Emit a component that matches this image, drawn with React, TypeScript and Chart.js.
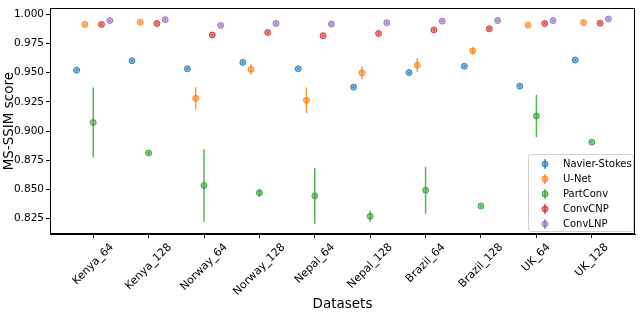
import React, { useEffect, useRef } from "react";
import { Chart, registerables } from "chart.js";
Chart.register(...registerables);

const categories = ["Kenya_64", "Kenya_128", "Norway_64", "Norway_128", "Nepal_64", "Nepal_128", "Brazil_64", "Brazil_128", "UK_64", "UK_128"];
const seriesNames = ["Navier-Stokes", "U-Net", "PartConv", "ConvCNP", "ConvLNP"];
const seriesColors = ["31,119,180", "255,127,14", "44,160,44", "214,39,40", "148,103,189"];
const seriesOffsets = [-0.3, -0.15, 0, 0.15, 0.3];

const navierStokes = [0.9521, 0.9601, 0.9532, 0.9587, 0.9532, 0.9376, 0.95, 0.9554, 0.9384, 0.9607];
const navierStokesErr = [0.0008, 0.0008, 0.0008, 0.0008, 0.0008, 0.0008, 0.0008, 0.0008, 0.0008, 0.0008];
const uNet = [0.9912, 0.9931, 0.928, 0.9527, 0.9263, 0.9497, 0.9563, 0.9686, 0.9906, 0.9928];
const uNetErr = [0.0008, 0.0008, 0.0095, 0.0045, 0.011, 0.0055, 0.006, 0.003, 0.0008, 0.0008];
const partConv = [0.9073, 0.8812, 0.8534, 0.8471, 0.8446, 0.827, 0.8493, 0.8358, 0.9128, 0.8905];
const partConvErr = [0.03, 0.001, 0.031, 0.0035, 0.024, 0.0047, 0.02, 0.001, 0.018, 0.001];
const convCNP = [0.9912, 0.992, 0.9821, 0.9843, 0.9816, 0.9835, 0.9865, 0.9874, 0.992, 0.9923];
const convCNPErr = [0.0008, 0.0008, 0.0008, 0.0008, 0.0008, 0.0008, 0.0008, 0.0008, 0.0008, 0.0008];
const convLNP = [0.9945, 0.9953, 0.9904, 0.992, 0.9915, 0.9926, 0.994, 0.9945, 0.9945, 0.9959];
const convLNPErr = [0.0008, 0.0008, 0.0008, 0.0008, 0.0008, 0.0008, 0.0008, 0.0008, 0.0008, 0.0008];

const seriesValues = [navierStokes, uNet, partConv, convCNP, convLNP];
const seriesErrors = [navierStokesErr, uNetErr, partConvErr, convCNPErr, convLNPErr];
const yTickValues = [0.825, 0.85, 0.875, 0.9, 0.925, 0.95, 0.975, 1.0];

const FONT = "'DejaVu Sans', sans-serif";

const overlayPlugin = {
  id: "overlay",
  beforeDatasetsDraw(chart: any) {
    const ctx = chart.ctx;
    const xs = chart.scales.x;
    const ys = chart.scales.y;
    ctx.save();
    seriesValues.forEach((vals, s) => {
      ctx.strokeStyle = `rgba(${seriesColors[s]},0.8)`;
      ctx.lineWidth = 1.5;
      vals.forEach((v, i) => {
        const e = seriesErrors[s][i];
        const px = xs.getPixelForValue(i + seriesOffsets[s]);
        ctx.beginPath();
        ctx.moveTo(px, ys.getPixelForValue(v + e));
        ctx.lineTo(px, ys.getPixelForValue(v - e));
        ctx.stroke();
      });
    });
    ctx.restore();
  },
  afterDraw(chart: any) {
    const ctx = chart.ctx;
    const xs = chart.scales.x;
    const a = chart.chartArea;
    ctx.save();
    // frame
    ctx.strokeStyle = "#000";
    ctx.lineWidth = 1;
    ctx.strokeRect(Math.round(a.left) + 0.5, Math.round(a.top) + 0.5, Math.round(a.right - a.left) - 1, Math.round(a.bottom - a.top) - 1);
    // x tick labels, rotated 45deg, centered
    ctx.font = `11px ${FONT}`;
    ctx.fillStyle = "#000";
    ctx.textAlign = "center";
    ctx.textBaseline = "middle";
    const h = 12.5;
    categories.forEach((c, i) => {
      const w = ctx.measureText(c).width;
      const ext = (w + h) / Math.SQRT2;
      const cx = xs.getPixelForValue(i);
      const cy = a.bottom + 7 + ext / 2;
      ctx.save();
      ctx.translate(cx, cy);
      ctx.rotate(-Math.PI / 4);
      ctx.fillText(c, 0, 0);
      ctx.restore();
    });
    // legend
    const lx = 528, ly = 154, lw = 105, lh = 77;
    ctx.fillStyle = "rgba(255,255,255,0.8)";
    ctx.strokeStyle = "#d0d0d0";
    ctx.lineWidth = 1;
    ctx.beginPath();
    (ctx as any).roundRect(lx + 0.5, ly + 0.5, lw, lh, 2);
    ctx.fill();
    ctx.stroke();
    ctx.textAlign = "left";
    ctx.textBaseline = "middle";
    seriesNames.forEach((n, s) => {
      const yy = ly + 10 + s * 15;
      const ix = 545;
      ctx.strokeStyle = `rgba(${seriesColors[s]},0.8)`;
      ctx.lineWidth = 1.5;
      ctx.beginPath();
      ctx.moveTo(ix, yy - 5);
      ctx.lineTo(ix, yy + 5);
      ctx.stroke();
      ctx.fillStyle = `rgba(${seriesColors[s]},0.55)`;
      ctx.strokeStyle = `rgba(${seriesColors[s]},0.8)`;
      ctx.lineWidth = 1;
      ctx.beginPath();
      ctx.arc(ix, yy, 3, 0, Math.PI * 2);
      ctx.fill();
      ctx.stroke();
      ctx.fillStyle = "#000";
      ctx.font = `10px ${FONT}`;
      ctx.fillText(n, 563, yy + 0.5);
    });
    ctx.restore();
  },
};

export default function App() {
  const ref = useRef<HTMLCanvasElement>(null);
  useEffect(() => {
    document.body.style.margin = "0";
    const datasets = seriesValues.map((vals, s) => ({
      label: seriesNames[s],
      data: vals.map((v, i) => ({ x: i + seriesOffsets[s], y: v })),
      backgroundColor: `rgba(${seriesColors[s]},0.55)`,
      borderColor: `rgba(${seriesColors[s]},0.8)`,
      borderWidth: 1,
      pointRadius: 3,
      showLine: false,
    }));
    const chart = new Chart(ref.current!, {
      type: "scatter",
      data: { datasets },
      options: {
        animation: false,
        responsive: false,
        devicePixelRatio: 1,
        layout: { padding: { top: 0, right: 3, left: 0, bottom: 0 } },
        plugins: { legend: { display: false }, tooltip: { enabled: false } },
        scales: {
          x: {
            type: "linear",
            min: -0.78,
            max: 9.78,
            afterBuildTicks: (sc: any) => {
              sc.ticks = categories.map((_, i) => ({ value: i }));
            },
            afterFit: (sc: any) => {
              sc.height = 82;
            },
            ticks: { display: false },
            grid: { display: true, drawOnChartArea: false, drawTicks: true, tickLength: 4, color: "#000" },
            border: { display: true, color: "#000" },
            title: { display: true, text: "Datasets", color: "#000", font: { family: FONT, size: 13.5 }, padding: { top: 0, bottom: 3 } },
          },
          y: {
            min: 0.8119,
            max: 1.005,
            afterBuildTicks: (sc: any) => {
              sc.ticks = yTickValues.map((v) => ({ value: v }));
            },
            afterFit: (sc: any) => {
              sc.width = 50;
            },
            ticks: { color: "#000", font: { family: FONT, size: 10.5 }, padding: 2, callback: (v: any) => Number(v).toFixed(3) },
            grid: { display: true, drawOnChartArea: false, drawTicks: true, tickLength: 4, color: "#000" },
            border: { display: true, color: "#000" },
            title: { display: true, text: "MS-SSIM score", color: "#000", font: { family: FONT, size: 13.5 }, padding: { top: 1, bottom: 0 } },
          },
        },
      },
      plugins: [overlayPlugin],
    } as any);
    return () => chart.destroy();
  }, []);
  return (
    <div style={{ width: 640, height: 316 }}>
      <canvas ref={ref} width={640} height={316} style={{ width: 640, height: 316, display: "block" }} />
    </div>
  );
}
